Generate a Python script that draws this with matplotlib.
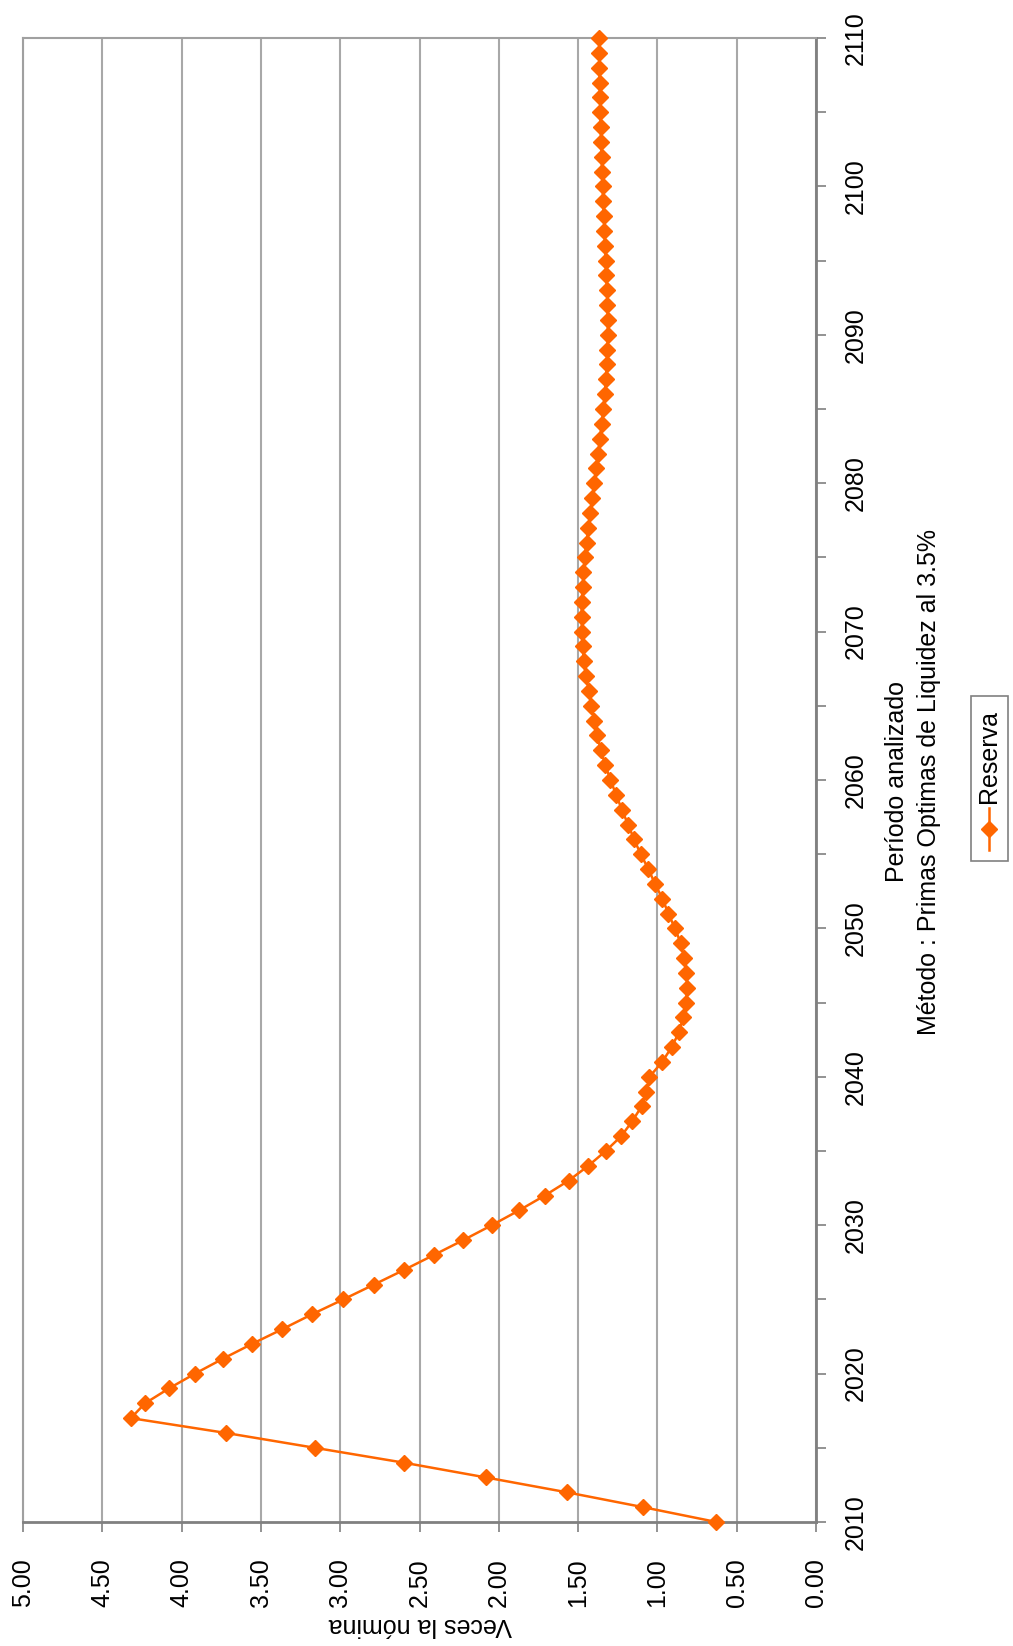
import matplotlib
matplotlib.use("Agg")
import matplotlib.pyplot as plt
from matplotlib.lines import Line2D
from matplotlib.patches import Rectangle

plt.rcParams['font.family'] = ['Liberation Sans', 'DejaVu Sans']

# datos (reserva en veces la nomina)
anios = list(range(2010, 2111))
reserva = [
    0.628, 1.09, 1.57, 2.08, 2.60, 3.16, 3.72, 4.32, 4.23, 4.08,
    3.915, 3.74, 3.556, 3.364, 3.177, 2.98, 2.787, 2.595, 2.408, 2.223,
    2.044, 1.872, 1.71, 1.56, 1.436, 1.326, 1.228, 1.159, 1.10, 1.07,
    1.05, 0.97, 0.91, 0.864, 0.838, 0.821, 0.811, 0.817, 0.832, 0.853,
    0.889, 0.931, 0.968, 1.015, 1.057, 1.105, 1.147, 1.185, 1.224, 1.26,
    1.296, 1.328, 1.357, 1.379, 1.40, 1.416, 1.433, 1.45, 1.465, 1.47,
    1.475, 1.478, 1.477, 1.472, 1.466, 1.458, 1.447, 1.435, 1.423, 1.41,
    1.398, 1.386, 1.374, 1.362, 1.351, 1.341, 1.332, 1.325, 1.319, 1.315,
    1.313, 1.313, 1.315, 1.318, 1.322, 1.326, 1.33, 1.334, 1.338, 1.342,
    1.346, 1.349, 1.352, 1.355, 1.358, 1.36, 1.362, 1.364, 1.366, 1.367,
    1.368,
]
valores_eje = [0.0, 0.5, 1.0, 1.5, 2.0, 2.5, 3.0, 3.5, 4.0, 4.5, 5.0]
anios_eje = list(range(2010, 2111, 10))
anios_menor = list(range(2015, 2111, 10))

naranja = '#ff6600'
gris = '#808080'
W, H = 1013, 1646
tam = 18

fig = plt.figure(figsize=(W / 100, H / 100), dpi=100)
ax = fig.add_axes([23 / W, 1 - 1522 / H, (816 - 23) / W, (1522 - 38) / H])

# grafico girado: valores en horizontal (invertido), anios en vertical
ax.plot(reserva, anios, color=naranja, lw=1.8, marker='D', ms=8.5,
        mec=naranja, mfc=naranja, clip_on=False, zorder=3)

ax.set_xlim(5, 0)
ax.set_ylim(2010, 2110)
ax.set_xticks(valores_eje)
ax.set_xticklabels(['%.2f' % v for v in valores_eje], rotation=90)
ax.set_yticks(anios_eje)
ax.set_yticks(anios_menor, minor=True)
ax.set_yticklabels([str(a) for a in anios_eje], rotation=90, va='center')
ax.yaxis.tick_right()
ax.tick_params(axis='x', direction='out', length=7, width=1.2, color=gris,
               labelsize=tam, pad=19)
ax.tick_params(axis='y', which='both', direction='out', length=7, width=1.2,
               color=gris, labelsize=tam, pad=13)
ax.grid(axis='x', color='#a8a8a8', lw=1.5)
ax.set_axisbelow(True)
for lado in ['top', 'left']:
    ax.spines[lado].set_color('#a0a0a0')
    ax.spines[lado].set_linewidth(1.5)
for lado in ['bottom', 'right']:
    ax.spines[lado].set_color(gris)
    ax.spines[lado].set_linewidth(2)

# textos de titulo y ejes
fig.text(420 / W, 1 - 1625 / H, 'Veces la nómina', rotation=180,
         ha='center', va='center', fontsize=tam)
fig.text(897 / W, 1 - 782 / H, 'Período analizado', rotation=90,
         ha='center', va='center', fontsize=tam)
fig.text(929 / W, 1 - 782 / H, 'Método : Primas Optimas de Liquidez al 3.5%',
         rotation=90, ha='center', va='center', fontsize=tam)

# leyenda girada
fig.patches.append(Rectangle((971 / W, 1 - 861 / H), 37 / W, 165 / H,
                             transform=fig.transFigure, fill=False,
                             ec='#808080', lw=1.2))
fig.lines.append(Line2D([989 / W, 989 / W], [1 - 850 / H, 1 - 808 / H],
                        transform=fig.transFigure, color=naranja, lw=1.8))
fig.lines.append(Line2D([989 / W], [1 - 829 / H], transform=fig.transFigure,
                        color=naranja, marker='D', ms=8.5))
fig.text(989 / W, 1 - 803 / H, 'Reserva', rotation=90, ha='center',
         va='bottom', fontsize=tam)

fig.savefig('out.png', dpi=100)
